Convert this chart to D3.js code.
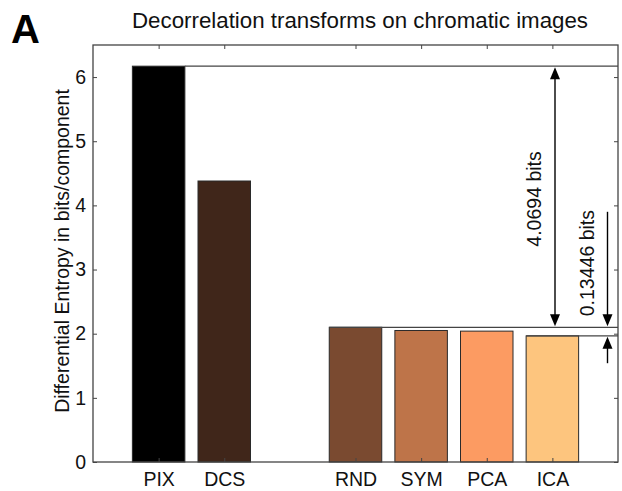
<!DOCTYPE html>
<html>
<head>
<meta charset="utf-8">
<script src="https://cdn.jsdelivr.net/npm/d3@7"></script>
<style>
  html, body { margin: 0; padding: 0; background: #fff; }
  svg { display: block; font-family: "Liberation Sans", Arial, Helvetica, sans-serif; }
</style>
</head>
<body>
<svg id="chart" width="622" height="491"></svg>
<script>
// ---- data ----
const categories = ["PIX", "DCS", "RND", "SYM", "PCA", "ICA"];
const positions = [1, 2, 4, 5, 6, 7];
const entropy = [6.17, 4.38, 2.10, 2.05, 2.04, 1.966];
const barColors = ["#000000", "#40261a", "#7a4a30", "#be7449", "#fc9b62", "#fdc57e"];
const yTicks = [0, 1, 2, 3, 4, 5, 6];
const diffLabels = ["4.0694 bits", "0.13446 bits"];
const titleText = "Decorrelation transforms on chromatic images";
const yLabel = "Differential Entropy in bits/component";
const panelLabel = "A";

// ---- layout ----
const svg = d3.select("#chart");
const L = 93, R = 618, T = 45, B = 462;
const x = d3.scaleLinear().domain([0, 8]).range([L, R]);
const y = d3.scaleLinear().domain([0, 6.5]).range([B, T]);
const barW = 0.8;
const fs = 19.5;

// bars
svg.append("g").selectAll("rect").data(categories).join("rect")
  .attr("x", (d, i) => x(positions[i] - barW / 2))
  .attr("width", (d, i) => x(positions[i] + barW / 2) - x(positions[i] - barW / 2))
  .attr("y", (d, i) => y(entropy[i]))
  .attr("height", (d, i) => y(0) - y(entropy[i]))
  .attr("fill", (d, i) => barColors[i])
  .attr("stroke", "#2a2a2a")
  .attr("stroke-width", 1);

// reference lines
const idxPIX = 0, idxRND = 2, idxICA = 5;
const refLines = [
  { y: entropy[idxPIX], x0: positions[idxPIX] + barW / 2 },
  { y: entropy[idxRND], x0: positions[idxRND] - barW / 2 },
  { y: entropy[idxICA], x0: positions[idxICA] - barW / 2 }
];
svg.append("g").selectAll("line").data(refLines).join("line")
  .attr("x1", d => x(d.x0)).attr("x2", x(8))
  .attr("y1", d => y(d.y)).attr("y2", d => y(d.y))
  .attr("stroke", "#444").attr("stroke-width", 1.2);

// arrows
function arrowHead(g, xp, yp, dir) { // dir: -1 pointing up, +1 pointing down
  const len = 12, hw = 5;
  g.append("path")
    .attr("d", `M${xp},${yp} L${xp - hw},${yp - dir * len} L${xp + hw},${yp - dir * len} Z`)
    .attr("fill", "#000");
}
const ag = svg.append("g");
// big double arrow
const ax1 = x(7.04);
ag.append("line").attr("x1", ax1).attr("x2", ax1)
  .attr("y1", y(entropy[idxPIX]) + 6).attr("y2", y(entropy[idxRND]) - 6)
  .attr("stroke", "#000").attr("stroke-width", 1.4);
arrowHead(ag, ax1, y(entropy[idxPIX]) + 1, -1);
arrowHead(ag, ax1, y(entropy[idxRND]) - 1, 1);
ag.append("text")
  .attr("transform", `translate(${x(6.82)},${y(4.1)}) rotate(-90)`)
  .attr("text-anchor", "middle").attr("font-size", fs).attr("fill", "#111")
  .text(diffLabels[0]);
// small arrows
const ax2 = x(7.84);
ag.append("line").attr("x1", ax2).attr("x2", ax2)
  .attr("y1", y(3.9)).attr("y2", y(entropy[idxRND]) - 6)
  .attr("stroke", "#000").attr("stroke-width", 1.4);
arrowHead(ag, ax2, y(entropy[idxRND]) - 1, 1);
ag.append("line").attr("x1", ax2).attr("x2", ax2)
  .attr("y1", y(1.54)).attr("y2", y(entropy[idxICA]) + 6)
  .attr("stroke", "#000").attr("stroke-width", 1.4);
arrowHead(ag, ax2, y(entropy[idxICA]) + 1, -1);
ag.append("text")
  .attr("transform", `translate(${x(7.64)},${y(3.1)}) rotate(-90)`)
  .attr("text-anchor", "middle").attr("font-size", fs).attr("fill", "#111")
  .text(diffLabels[1]);

// axes box
const tickLen = 4;
const axisG = svg.append("g");
axisG.append("rect").attr("x", L).attr("y", T).attr("width", R - L).attr("height", B - T)
  .attr("fill", "none").attr("stroke", "#444").attr("stroke-width", 1.3);

// left axis
const leftAxis = d3.axisLeft(y).tickValues(yTicks).tickSize(-tickLen).tickPadding(7).tickFormat(d3.format("d"));
const gl = svg.append("g").attr("transform", `translate(${L},0)`).call(leftAxis);
gl.select(".domain").remove();
gl.selectAll("line").attr("stroke", "#444");
gl.selectAll("text").attr("font-size", fs).attr("fill", "#111").attr("font-family", null);
// right axis ticks
const rightAxis = d3.axisRight(y).tickValues(yTicks).tickSize(-tickLen).tickFormat("");
const gr = svg.append("g").attr("transform", `translate(${R},0)`).call(rightAxis);
gr.select(".domain").remove();
gr.selectAll("line").attr("stroke", "#444");

// bottom axis
const bottomAxis = d3.axisBottom(x).tickValues(positions).tickSize(-tickLen).tickPadding(10)
  .tickFormat((d, i) => categories[i]);
const gb = svg.append("g").attr("transform", `translate(0,${B})`).call(bottomAxis);
gb.select(".domain").remove();
gb.selectAll("line").attr("stroke", "#444");
gb.selectAll("text").attr("font-size", fs).attr("fill", "#111").attr("font-family", null);
// top axis ticks
const topAxis = d3.axisTop(x).tickValues(positions).tickSize(-tickLen).tickFormat("");
const gt = svg.append("g").attr("transform", `translate(0,${T})`).call(topAxis);
gt.select(".domain").remove();
gt.selectAll("line").attr("stroke", "#444");

// title
svg.append("text").attr("x", 360).attr("y", 28).attr("text-anchor", "middle")
  .attr("font-size", 22.3).attr("fill", "#111").text(titleText);
// y label
svg.append("text").attr("transform", `translate(69,251) rotate(-90)`)
  .attr("text-anchor", "middle").attr("font-size", fs).attr("fill", "#111").text(yLabel);
// panel label
svg.append("text").attr("x", 11).attr("y", 43).attr("font-size", 40).attr("font-weight", "bold")
  .attr("fill", "#000").text(panelLabel);
</script>
</body>
</html>
